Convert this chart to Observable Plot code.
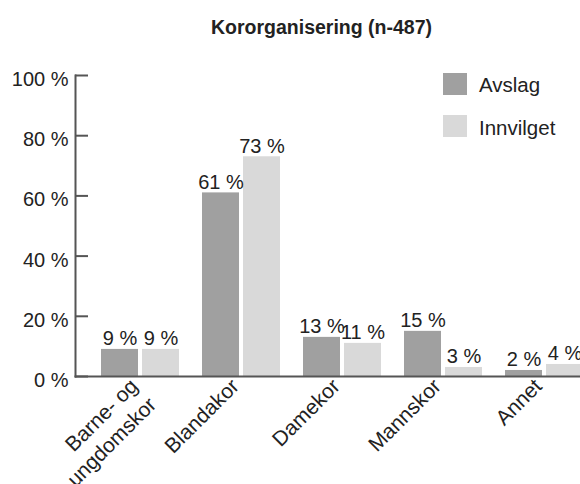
<!DOCTYPE html>
<html><head><meta charset="utf-8">
<script src="https://cdn.jsdelivr.net/npm/d3@7"></script>
<script src="https://cdn.jsdelivr.net/npm/@observablehq/plot@0.6"></script>
<style>
html,body{margin:0;padding:0;background:#fff;overflow:hidden}
#wrap{position:relative;width:580px;height:484px;font-family:"Liberation Sans",Arial,sans-serif;color:#222}
#title{position:absolute;left:0;width:643px;top:17.5px;text-align:center;font-weight:bold;font-size:19.5px;line-height:1;white-space:nowrap}
.sw{position:absolute;left:443px;width:24px;height:22px}
.lt{position:absolute;left:479px;font-size:20.5px;line-height:1;white-space:nowrap}
#chart{position:absolute;left:0;top:0}
</style></head>
<body>
<div id="wrap">
  <div id="chart"></div>
  <div id="title"></div>
  <div id="legend"></div>
</div>
<script>
const title = "Kororganisering (n-487)";
const categories = ["Barne- og\nungdomskor", "Blandakor", "Damekor", "Mannskor", "Annet"];
const series = ["Avslag", "Innvilget"];
const avslag = [9, 61, 13, 15, 2];
const innvilget = [9, 73, 11, 3, 4];
const yTicks = [0, 20, 40, 60, 80, 100];
const colors = ["#a0a0a0", "#d9d9d9"];

const data = categories.flatMap((c, i) => [
  {cat: c, s: series[0], v: avslag[i]},
  {cat: c, s: series[1], v: innvilget[i]}
]);
const fmt = d => d + " %";

const chart = Plot.plot({
  width: 580,
  height: 484,
  marginLeft: 75,
  marginRight: 0,
  marginTop: 75,
  marginBottom: 108,
  style: {fontFamily: '"Liberation Sans", Arial, sans-serif', fontSize: "20px", color: "#222", background: "transparent", overflow: "visible"},
  x: {domain: categories, range: [75, 608], paddingInner: 0.23, paddingOuter: 0.247, label: null},
  y: {domain: [0, 100], label: null},
  color: {domain: series, range: colors},
  marks: [
    Plot.barY(data, {filter: d => d.s === series[0], x: "cat", y: "v", fill: "s", insetRight: 41}),
    Plot.barY(data, {filter: d => d.s === series[1], x: "cat", y: "v", fill: "s", insetLeft: 41}),
    Plot.text(data, {filter: d => d.s === series[0], x: "cat", y: "v", text: d => fmt(d.v), dx: -20.5, dy: -4, lineAnchor: "bottom", fill: "#222", fontSize: 20}),
    Plot.text(data, {filter: d => d.s === series[1], x: "cat", y: "v", text: d => fmt(d.v), dx: 20.5, dy: -4, lineAnchor: "bottom", fill: "#222", fontSize: 20}),
    Plot.frame({anchor: "left", stroke: "#555", strokeWidth: 2}),
    Plot.frame({anchor: "bottom", stroke: "#555", strokeWidth: 2}),
    Plot.axisY({ticks: yTicks, tickSize: -13, tickFormat: () => "", stroke: "#555", strokeWidth: 2}),
    Plot.axisY({ticks: yTicks, tickSize: 0, tickPadding: 7, dy: 4, tickFormat: fmt, fill: "#222", fontSize: 20}),
    Plot.axisX({tickSize: 0, tickRotate: -45, tickPadding: 0, dx: -14.5, dy: -2, lineAnchor: "top", fill: "#222", fontSize: 21, lineHeight: 1.24})
  ]
});
document.getElementById("chart").appendChild(chart);
document.getElementById("title").textContent = title;

const legend = document.getElementById("legend");
const swTops = [73, 115];
const txTops = [75.3, 117.6];
series.forEach((s, i) => {
  const sw = document.createElement("div");
  sw.className = "sw"; sw.style.top = swTops[i] + "px"; sw.style.background = colors[i];
  legend.appendChild(sw);
  const t = document.createElement("div");
  t.className = "lt"; t.style.top = txTops[i] + "px"; t.textContent = s;
  legend.appendChild(t);
});
</script>
</body></html>
